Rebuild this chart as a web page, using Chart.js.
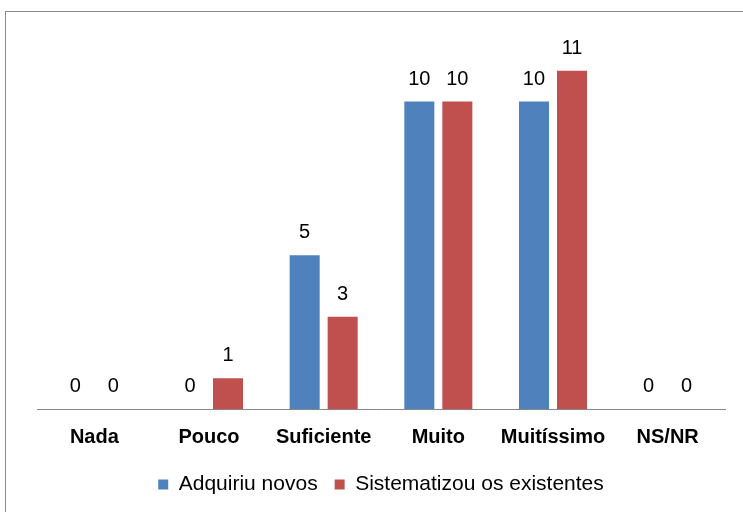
<!DOCTYPE html>
<html>
<head>
<meta charset="utf-8">
<script src="https://cdn.jsdelivr.net/npm/chart.js@4/dist/chart.umd.min.js"></script>
<style>
  html, body { margin: 0; padding: 0; background: #fff; overflow: hidden; }
  #frame { position: absolute; left: 5px; top: 11px; width: 800px; height: 600px; border: 1px solid #8a8a8a; }
  #wrap { position: absolute; left: 0; top: 0; width: 743px; height: 512px; }
</style>
</head>
<body>
<div id="frame"></div>
<div id="wrap"><canvas id="chart"></canvas></div>
<script>
const categories = ["Nada", "Pouco", "Suficiente", "Muito", "Muitíssimo", "NS/NR"];
const adquiriuNovos = [0, 0, 5, 10, 10, 0];
const sistematizou = [0, 1, 3, 10, 11, 0];

// draw the value above each bar
const valueLabels = {
    id: "valueLabels",
    afterDatasetsDraw(chart) {
        const ctx = chart.ctx;
        ctx.save();
        ctx.font = "20px 'Liberation Sans', Arial, sans-serif";
        ctx.fillStyle = "#000";
        ctx.textAlign = "center";
        ctx.textBaseline = "alphabetic";
        chart.data.datasets.forEach((ds, i) => {
            chart.getDatasetMeta(i).data.forEach((bar, j) => {
                ctx.fillText(String(ds.data[j]), bar.x, bar.y - 17);
            });
        });
        ctx.restore();
    }
};

new Chart(document.getElementById("chart"), {
    type: "bar",
    data: {
        labels: categories,
        datasets: [
            { label: "Adquiriu novos", data: adquiriuNovos, backgroundColor: "#4F81BD" },
            { label: "Sistematizou os existentes", data: sistematizou, backgroundColor: "#C0504D" }
        ]
    },
    options: {
        responsive: true,
        maintainAspectRatio: false,
        animation: false,
        categoryPercentage: 0.663,
        barPercentage: 0.79,
        layout: { padding: { left: 37, right: 18, top: 40, bottom: 7 } },
        scales: {
            x: {
                grid: { display: false },
                border: { display: true, color: "#878787", width: 1 },
                ticks: {
                    color: "#000",
                    padding: 8,
                    font: { family: "'Liberation Sans', Arial, sans-serif", size: 20, weight: "bold" }
                }
            },
            y: { display: false, min: 0, max: 12 }
        },
        plugins: {
            legend: {
                position: "bottom",
                labels: {
                    color: "#000",
                    boxWidth: 10,
                    boxHeight: 10,
                    padding: 17,
                    font: { family: "'Liberation Sans', Arial, sans-serif", size: 21 }
                }
            },
            tooltip: { enabled: false }
        }
    },
    plugins: [valueLabels]
});
</script>
</body>
</html>
